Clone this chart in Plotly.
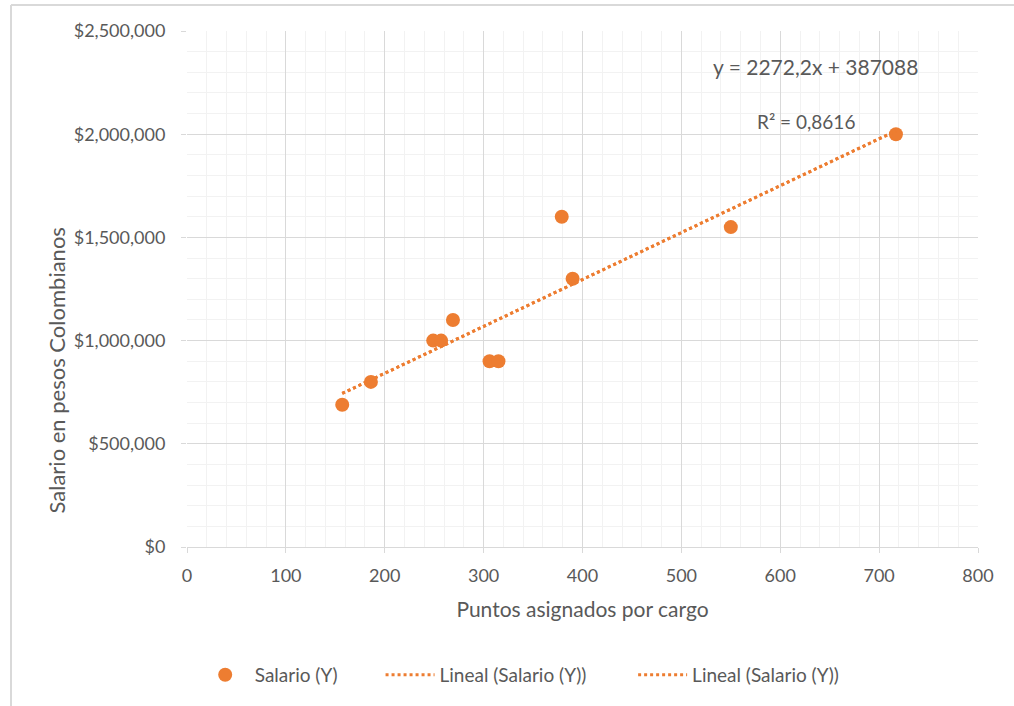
import plotly.graph_objects as go

# Points assigned per position and monthly salary (COP)
puntos = [157, 186, 249, 257, 269, 306, 315, 379, 390, 550, 717]
salario = [689455, 800000, 1000000, 1000000, 1100000, 900000, 900000,
           1600000, 1300000, 1550000, 2000000]

# Linear trendline coefficients
pendiente = 2272.2
intercepto = 387088
r2 = 0.8616

x_ticks = [0, 100, 200, 300, 400, 500, 600, 700, 800]
y_ticks = [0, 500000, 1000000, 1500000, 2000000, 2500000]

ORANGE = "#ED7D31"
TEXT = "#595959"
FONT = "Lato"

x_tr = [min(puntos), max(puntos)]
y_tr = [pendiente * v + intercepto for v in x_tr]

fig = go.Figure()
fig.add_trace(go.Scatter(
    x=puntos, y=salario, mode="markers", name="Salario (Y)", legend="legend",
    marker=dict(color=ORANGE, size=14, line=dict(width=0)),
))
for leg in ("legend2", "legend3"):
    fig.add_trace(go.Scatter(
        x=x_tr, y=y_tr, mode="lines", name="Lineal (Salario (Y))", legend=leg,
        line=dict(color=ORANGE, width=3, dash="dot"),
    ))

leg_style = dict(orientation="h", y=-0.248, yanchor="middle", xanchor="left",
                 itemwidth=49, font=dict(size=19, color=TEXT), bgcolor="rgba(0,0,0,0)")

fig.update_layout(
    width=1014, height=706,
    margin=dict(l=187, r=36, t=31, b=159),
    paper_bgcolor="white", plot_bgcolor="white",
    font=dict(family=FONT, color=TEXT, size=18),
    showlegend=True,
    legend=dict(x=0.0110, **leg_style),
    legend2=dict(x=0.2447, **leg_style),
    legend3=dict(x=0.5640, **leg_style),
    annotations=[
        dict(x=636, y=2330000, xref="x", yref="y", showarrow=False,
             text=f"y = {str(pendiente).replace('.', ',')}x + {intercepto}",
             font=dict(size=21, color=TEXT, family=FONT)),
        dict(x=626, y=2060000, xref="x", yref="y", showarrow=False,
             text=f"R² = {str(r2).replace('.', ',')}",
             font=dict(size=19, color=TEXT, family=FONT)),
        dict(x=-0.165, y=0.343, xref="paper", yref="paper", showarrow=False,
             xanchor="center", yanchor="middle",
             text="Salario en pesos Colombianos", textangle=-90,
             font=dict(size=22, color=TEXT, family=FONT)),
    ],
    shapes=[
        dict(type="line", xref="paper", yref="paper", x0=-0.2225, x1=1.1, y0=1.0504, y1=1.0504,
             line=dict(color="#D9D9D9", width=2)),
        dict(type="line", xref="paper", yref="paper", x0=-0.2225, x1=-0.2225, y0=1.0504, y1=-0.32,
             line=dict(color="#D9D9D9", width=2)),
    ],
)

fig.update_xaxes(
    range=[0, 800], tickvals=x_ticks, ticks="outside", ticklen=5, tickcolor="#D9D9D9",
    showgrid=True, gridcolor="#D9D9D9", gridwidth=1,
    minor=dict(dtick=20, showgrid=True, gridcolor="#F2F2F2", ticks=""),
    showline=True, linecolor="#D9D9D9", linewidth=1, zeroline=False,
    tickfont=dict(size=18, color=TEXT), ticklabelstandoff=7,
    title=dict(text="Puntos asignados por cargo", font=dict(size=21, color=TEXT), standoff=17),
)
fig.update_yaxes(
    range=[0, 2500000], tickvals=y_ticks, tickformat="$,.0f",
    ticks="outside", ticklen=5, tickcolor="#D9D9D9",
    showgrid=True, gridcolor="#D9D9D9", gridwidth=1,
    minor=dict(dtick=100000, showgrid=True, gridcolor="#F2F2F2", ticks=""),
    showline=False, zeroline=False,
    tickfont=dict(size=18, color=TEXT), ticklabelstandoff=12,
)

fig.write_html("out.html")
